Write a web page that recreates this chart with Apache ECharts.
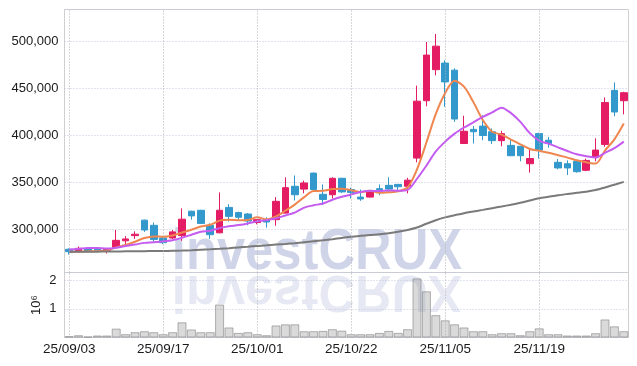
<!DOCTYPE html>
<html><head><meta charset="utf-8">
<script src="https://cdn.jsdelivr.net/npm/echarts@6/dist/echarts.min.js"></script>
<style>html,body{margin:0;padding:0;background:#fff}#c{width:637px;height:366px}</style>
</head><body><div id="c"></div>
<script>
const dates = ['25/09/03','25/09/04','25/09/05','25/09/08','25/09/09','25/09/10','25/09/11','25/09/12','25/09/15','25/09/16',
'25/09/17','25/09/18','25/09/19','25/09/22','25/09/23','25/09/24','25/09/25','25/09/26','25/09/29','25/09/30',
'25/10/01','25/10/02','25/10/10','25/10/13','25/10/14','25/10/15','25/10/16','25/10/17','25/10/20','25/10/21',
'25/10/22','25/10/23','25/10/24','25/10/27','25/10/28','25/10/29','25/10/30','25/10/31','25/11/03','25/11/04',
'25/11/05','25/11/06','25/11/07','25/11/10','25/11/11','25/11/12','25/11/13','25/11/14','25/11/17','25/11/18',
'25/11/19','25/11/20','25/11/21','25/11/24','25/11/25','25/11/26','25/11/27','25/11/28','25/12/01','25/12/02'];
const tickLabels = ['25/09/03','25/09/17','25/10/01','25/10/22','25/11/05','25/11/19'];
const opens = [279000,277000,280000,279000,277500,281000,288000,293500,310000,304500,
291000,291000,293500,319500,320500,304500,296500,323500,318000,316500,
307500,310500,310500,317500,346000,343000,360000,337500,337000,354500,
342500,334500,334500,343500,347000,348000,346000,376000,437000,470000,
477000,469500,391500,406500,410000,404000,394500,389500,388500,370000,
402000,395000,371500,370000,372500,363000,377000,390500,448000,437000];
const closes = [276500,280000,277000,278000,279500,288500,290000,295000,299500,289500,
286000,297500,311000,314500,306500,294500,320500,314000,313000,309000,
310500,308000,330000,344500,337000,349500,342500,332000,354500,340000,
339500,332500,340000,342500,343000,345500,352500,436500,485500,495000,
457000,417500,404500,404000,400000,394500,402000,378500,378500,375500,
384500,391500,365500,365500,361500,373500,384500,435000,425000,445500];
const lows = [273500,276500,276000,277000,274500,280500,284500,290000,297500,287000,
284500,290000,288000,310500,306000,290000,296000,308500,310000,304500,
305500,302000,304000,317000,331000,338500,342000,326000,333000,339000,
333000,330500,334000,336500,340000,340500,338500,371500,431000,464000,
430500,414500,391000,391500,395000,391000,388500,378000,372500,360500,
375500,387000,364000,358000,360500,362000,372500,388000,420500,422500];
const highs = [280000,282000,281000,280500,280000,299500,293000,298000,310500,307500,
291500,299500,322500,320000,321000,306500,339500,327000,319000,317500,
311000,313000,334500,355500,357500,352000,360500,348000,355500,355000,
344500,342500,341500,348000,355500,348500,355000,453000,499500,508000,
480000,471500,421000,410000,421500,407500,405000,395500,388500,386000,
403000,398500,375000,373500,373500,375500,397000,440500,456500,446500];
const ma5 = [276400,276500,276800,277200,277800,281000,283500,287000,291000,292700,
292300,293700,296700,299800,303200,305000,309500,310300,310000,310200,
313000,310800,314000,320000,326500,334500,341000,341200,343000,343300,
341800,339700,341300,339000,339600,340700,344700,364000,392500,422900,
445300,458200,451900,435500,416500,404000,400900,395700,390600,385700,
383700,381600,379000,376500,373600,371500,370100,384000,395900,412700];
const ma10 = [278700,279500,280300,280400,279800,280700,282500,284000,285800,286500,
287500,288600,291300,294500,297700,298800,301500,303400,304700,306500,
308800,310000,312000,315000,318000,323300,325800,327600,331700,334800,
337300,340000,341200,341000,341600,341200,342200,354000,368000,383000,
393500,402000,408500,414000,419700,424600,429600,423800,414500,402500,
394500,391300,387400,383500,380000,378000,376500,381500,386500,393500];
const ma60 = [276200,276300,276400,276500,276600,276700,276800,276900,277000,277100,
277200,277400,277600,277900,278400,278900,279500,280200,281000,281700,
282500,283200,284000,284700,285500,286500,287500,288500,289700,291000,
292300,293300,294200,295000,296100,297600,299500,302100,306200,309900,
312900,315200,317400,319200,320900,322700,324500,326400,328500,330900,
333300,334900,336500,337800,339000,340200,342000,344700,347700,350700];
const volumes = [45000,80000,35000,70000,70000,310000,115000,185000,220000,185000,
115000,185000,530000,280000,185000,185000,1150000,350000,160000,185000,
115000,80000,420000,460000,460000,220000,220000,230000,290000,240000,
115000,115000,115000,160000,230000,160000,290000,2060000,1610000,780000,
600000,460000,350000,220000,220000,115000,150000,150000,80000,220000,
320000,115000,115000,70000,70000,70000,150000,630000,390000,220000];
const priceMin = 254300, priceMax = 534000, volMax = 2266000;

const FONT = '"Liberation Sans", Arial, sans-serif';
const chart = echarts.init(document.getElementById('c'), null, {renderer: 'canvas'});
const vLines = {
  silent: true, symbol: ['none', 'none'], animation: false,
  label: {show: false},
  lineStyle: {type: [1, 2], color: '#b0b0b0', width: 1},
  emphasis: {disabled: true},
  data: tickLabels.map(t => ({xAxis: t}))
};
const wmFill = 'rgba(150,162,205,0.46)';
chart.setOption({
  animation: false,
  backgroundColor: '#fff',
  grid: [
    {left: 64.5, top: 9.5, width: 564, height: 263, show: true, borderColor: '#cfcfcf', borderWidth: 1},
    {left: 64.5, top: 272.5, width: 564, height: 65, show: true, borderColor: '#cfcfcf', borderWidth: 1}
  ],
  graphic: [
    {type: 'text', x: 317, y: 282, scaleX: 0.89, z: 0, silent: true,
     style: {text: 'investCRUX', font: 'bold 57px ' + FONT, fill: wmFill, align: 'center', verticalAlign: 'bottom'}},
    {type: 'text', x: 317, y: 264, scaleX: 0.89, scaleY: -0.9, z: 0, silent: true,
     style: {text: 'investCRUX', font: 'bold 57px ' + FONT, fill: 'rgba(150,162,205,0.24)', align: 'center', verticalAlign: 'bottom'}}
  ],
  xAxis: [
    {type: 'category', gridIndex: 0, data: dates, boundaryGap: true,
     axisLine: {show: false}, axisTick: {show: false}, axisLabel: {show: false}, splitLine: {show: false}},
    {type: 'category', gridIndex: 1, data: dates, boundaryGap: true,
     axisLine: {show: false}, axisTick: {show: false}, splitLine: {show: false},
     axisLabel: {interval: (i, v) => tickLabels.includes(v), fontSize: 13.5, color: '#1a1a1a', margin: 5, fontFamily: FONT}}
  ],
  yAxis: [
    {type: 'value', gridIndex: 0, min: priceMin, max: priceMax, splitNumber: 5,
     axisLine: {show: false}, axisTick: {show: false},
     axisLabel: {formatter: v => v.toLocaleString('en-US'), showMinLabel: false, showMaxLabel: false,
                 fontSize: 13, color: '#1a1a1a', margin: 6, fontFamily: FONT},
     splitLine: {lineStyle: {type: [1, 2], color: '#c3c8dc'}}},
    {type: 'value', gridIndex: 1, min: 0, max: volMax, interval: 1000000,
     axisLine: {show: false}, axisTick: {show: false},
     axisLabel: {formatter: v => String(v / 1000000), showMinLabel: false, showMaxLabel: false,
                 fontSize: 13, color: '#1a1a1a', margin: 8, fontFamily: FONT},
     splitLine: {lineStyle: {type: [1, 2], color: '#c3c8dc'}},
     name: '10⁶', nameLocation: 'middle', nameGap: 22, nameRotate: 90, nameMoveOverlap: false,
     nameTextStyle: {fontSize: 13, color: '#1a1a1a', fontFamily: FONT}}
  ],
  series: [
    {type: 'candlestick', xAxisIndex: 0, yAxisIndex: 0, barWidth: 7, z: 3,
     data: dates.map((d, i) => [opens[i], closes[i], lows[i], highs[i]]),
     itemStyle: {color: '#e31c64', color0: '#3399cc', borderColor: '#e31c64', borderColor0: '#3399cc', borderWidth: 1},
     markLine: vLines},
    {type: 'line', name: 'MA5', xAxisIndex: 0, yAxisIndex: 0, data: ma5, symbol: 'none', smooth: 0.3, z: 4,
     lineStyle: {color: '#ef8650', width: 2}},
    {type: 'line', name: 'MA10', xAxisIndex: 0, yAxisIndex: 0, data: ma10, symbol: 'none', smooth: 0.3, z: 4,
     lineStyle: {color: '#c55cf0', width: 2}},
    {type: 'line', name: 'MA60', xAxisIndex: 0, yAxisIndex: 0, data: ma60, symbol: 'none', smooth: 0.3, z: 4,
     lineStyle: {color: '#7a7a7a', width: 2}},
    {type: 'bar', xAxisIndex: 1, yAxisIndex: 1, data: volumes, barCategoryGap: '4%', z: 3,
     itemStyle: {color: 'rgba(140,140,140,0.32)', borderColor: 'rgba(120,120,120,0.55)', borderWidth: 1},
     markLine: vLines}
  ]
});
</script>
</body></html>
